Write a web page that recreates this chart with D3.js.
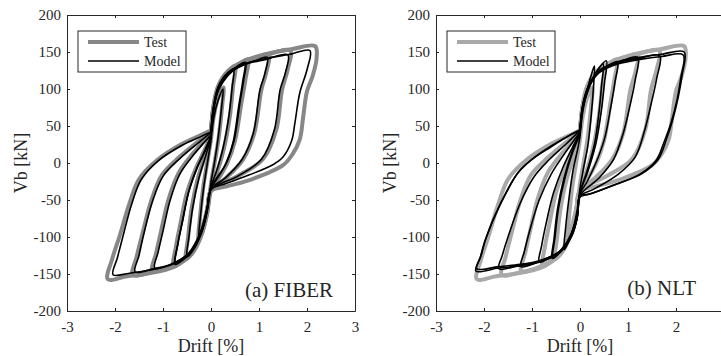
<!DOCTYPE html>
<html>
<head>
<meta charset="utf-8">
<script src="https://cdn.jsdelivr.net/npm/d3@7"></script>
</head>
<body style="margin:0; background:#fff">
<svg id="chart" width="721" height="356"></svg>
<script>
const xTicks = [-3, -2, -1, 0, 1, 2, 3];
const yTicks = [-200, -150, -100, -50, 0, 50, 100, 150, 200];
const legendLabels = ["Test", "Model"];
const panelTitles = ["(a) FIBER", "(b) NLT"];

// test loops [drift %, Vb kN], one array per cycle (same test in both panels)
const testCycles = [
    [[0,32],[0.06,64],[0.15,88],[0.26,102],[0.23,76],[0.16,34],[0.08,2],[0,-28],[-0.06,-60],[-0.15,-86],[-0.26,-102],[-0.23,-74],[-0.16,-32],[-0.08,0],[0,32]],
    [[0,38],[0.05,71],[0.15,99],[0.3,119],[0.5,131],[0.46,104],[0.39,62],[0.27,20],[0.13,-12],[0,-34],[-0.08,-62],[-0.2,-92],[-0.35,-117],[-0.52,-130],[-0.48,-102],[-0.4,-60],[-0.27,-20],[-0.11,12],[0,36]],
    [[0,40],[0.05,73],[0.15,101],[0.35,122],[0.6,134],[0.77,140],[0.72,114],[0.63,80],[0.5,30],[0.34,0],[0.13,-24],[0,-36],[-0.08,-64],[-0.2,-94],[-0.4,-121],[-0.6,-133],[-0.78,-140],[-0.73,-113],[-0.63,-80],[-0.5,-40],[-0.32,-8],[-0.13,18],[0,38]],
    [[0,42],[0.05,74],[0.15,102],[0.35,122],[0.7,137],[0.95,143],[1.2,147],[1.15,122],[1.05,99],[0.9,40],[0.67,5],[0.3,-21],[0,-37],[-0.08,-65],[-0.2,-95],[-0.4,-121],[-0.8,-139],[-1.22,-146],[-1.14,-121],[-1.04,-92],[-0.88,-48],[-0.67,-13],[-0.36,14],[0,40]],
    [[0,43],[0.05,75],[0.15,103],[0.35,123],[0.7,137],[1.2,147],[1.65,152],[1.6,127],[1.48,99],[1.36,45],[1.08,5],[0.55,-18],[0,-38],[-0.08,-66],[-0.2,-96],[-0.4,-122],[-0.8,-140],[-1.2,-147],[-1.63,-151],[-1.55,-127],[-1.43,-96],[-1.24,-50],[-1.02,-16],[-0.66,8],[-0.25,30],[0,43]],
    [[0,44],[0.05,76],[0.15,104],[0.35,124],[0.7,138],[1.2,148],[1.7,154],[2.17,158],[2.2,142],[2.12,118],[2.0,97],[1.92,62],[1.85,32],[1.7,12],[1.5,-3],[0.85,-22],[0.3,-32],[0,-38],[-0.08,-68],[-0.2,-98],[-0.4,-123],[-0.8,-141],[-1.3,-149],[-1.75,-153],[-2.15,-157],[-2.06,-130],[-1.9,-98],[-1.7,-55],[-1.5,-22],[-1.12,4],[-0.6,26],[-0.2,38],[0,44]]
];

// FIBER model loops
const fiberCycles = [
    [[0,30],[0.06,62],[0.15,85],[0.25,100],[0.22,75],[0.15,35],[0.07,0],[0,-26],[-0.06,-58],[-0.15,-84],[-0.25,-100],[-0.22,-72],[-0.15,-32],[-0.07,2],[0,30]],
    [[0,36],[0.05,70],[0.15,98],[0.3,117],[0.47,127],[0.44,102],[0.37,62],[0.25,20],[0.12,-10],[0,-32],[-0.08,-60],[-0.2,-90],[-0.35,-115],[-0.5,-127],[-0.46,-100],[-0.38,-60],[-0.25,-20],[-0.1,12],[0,34]],
    [[0,38],[0.05,72],[0.15,100],[0.35,120],[0.55,131],[0.72,136],[0.68,112],[0.6,80],[0.48,30],[0.32,0],[0.12,-22],[0,-34],[-0.08,-62],[-0.2,-92],[-0.4,-118],[-0.58,-131],[-0.75,-137],[-0.7,-112],[-0.6,-80],[-0.47,-40],[-0.3,-8],[-0.12,18],[0,36]],
    [[0,37],[0.05,70],[0.15,98],[0.35,118],[0.55,129],[0.7,134],[0.66,110],[0.58,78],[0.46,28],[0.3,-2],[0.1,-22],[0,-33],[-0.08,-60],[-0.2,-90],[-0.4,-116],[-0.58,-129],[-0.74,-135],[-0.69,-110],[-0.59,-78],[-0.46,-38],[-0.29,-6],[-0.11,18],[0,37]],
    [[0,40],[0.05,73],[0.15,101],[0.35,120],[0.7,133],[0.95,139],[1.17,143],[1.12,120],[1.02,99],[0.88,40],[0.65,5],[0.3,-20],[0,-35],[-0.08,-63],[-0.2,-93],[-0.4,-118],[-0.8,-136],[-1.17,-142],[-1.1,-120],[-1.0,-92],[-0.85,-50],[-0.65,-15],[-0.35,12],[0,38]],
    [[0,41],[0.05,74],[0.15,102],[0.35,121],[0.7,133],[1.15,140],[1.6,146],[1.55,122],[1.44,99],[1.32,45],[1.05,5],[0.55,-18],[0,-36],[-0.08,-64],[-0.2,-94],[-0.4,-119],[-0.8,-136],[-1.2,-143],[-1.58,-147],[-1.5,-125],[-1.4,-96],[-1.22,-52],[-1.0,-18],[-0.65,6],[-0.25,28],[0,41]],
    [[0,42],[0.05,75],[0.15,103],[0.35,122],[0.7,134],[1.2,142],[1.65,147],[2.06,152],[2.0,126],[1.85,95],[1.75,55],[1.68,30],[1.5,8],[1.3,-2],[0.8,-16],[0.3,-28],[0,-36],[-0.08,-65],[-0.2,-95],[-0.4,-120],[-0.8,-137],[-1.3,-145],[-1.7,-149],[-2.04,-151],[-1.95,-128],[-1.83,-98],[-1.65,-55],[-1.45,-22],[-1.1,3],[-0.6,24],[-0.2,36],[0,42]]
];

// NLT model loops
const nltCycles = [
    [[0,36],[0.06,70],[0.15,98],[0.23,118],[0.3,131],[0.28,102],[0.23,62],[0.16,22],[0.07,-8],[0,-34],[-0.06,-64],[-0.15,-90],[-0.25,-108],[-0.33,-117],[-0.3,-88],[-0.23,-48],[-0.14,-8],[-0.05,18],[0,36]],
    [[0,40],[0.06,74],[0.18,100],[0.32,120],[0.48,134],[0.45,105],[0.39,65],[0.3,25],[0.15,-10],[0,-40],[-0.06,-70],[-0.18,-95],[-0.38,-117],[-0.56,-128],[-0.52,-100],[-0.45,-62],[-0.32,-22],[-0.15,15],[0,38]],
    [[0,41],[0.06,76],[0.18,102],[0.35,124],[0.55,138],[0.51,108],[0.44,68],[0.33,26],[0.17,-10],[0,-41],[-0.06,-71],[-0.18,-96],[-0.38,-118],[-0.58,-129],[-0.54,-102],[-0.47,-63],[-0.34,-22],[-0.16,16],[0,40]],
    [[0,42],[0.06,76],[0.18,102],[0.4,123],[0.6,132],[0.78,137],[0.73,110],[0.64,75],[0.52,35],[0.35,3],[0.15,-25],[0,-42],[-0.06,-72],[-0.18,-97],[-0.4,-118],[-0.62,-128],[-0.85,-134],[-0.8,-112],[-0.7,-80],[-0.55,-40],[-0.35,-5],[-0.15,22],[0,40]],
    [[0,43],[0.06,77],[0.18,103],[0.4,123],[0.8,136],[1.2,143],[1.15,112],[1.05,80],[0.9,40],[0.7,5],[0.4,-20],[0,-44],[-0.06,-73],[-0.18,-98],[-0.4,-118],[-0.85,-133],[-1.23,-140],[-1.16,-120],[-1.05,-92],[-0.85,-50],[-0.6,-15],[-0.35,10],[0,42]],
    [[0,44],[0.06,78],[0.18,104],[0.4,124],[0.8,136],[1.2,141],[1.66,145],[1.6,115],[1.5,85],[1.35,45],[1.15,8],[0.8,-15],[0.3,-35],[0,-45],[-0.06,-74],[-0.18,-99],[-0.4,-119],[-0.85,-133],[-1.25,-138],[-1.69,-143],[-1.62,-125],[-1.5,-100],[-1.25,-55],[-0.95,-18],[-0.65,4],[-0.3,25],[0,44]],
    [[0,45],[0.06,80],[0.18,105],[0.4,125],[0.8,137],[1.25,143],[1.7,147],[2.17,150],[2.13,120],[2.05,90],[1.93,58],[1.8,32],[1.63,5],[1.3,-14],[0.7,-30],[0.2,-42],[0,-46],[-0.06,-75],[-0.18,-100],[-0.4,-120],[-0.85,-134],[-1.25,-139],[-1.7,-142],[-2.17,-146],[-2.08,-128],[-1.98,-105],[-1.65,-54],[-1.3,-14],[-1.0,5],[-0.6,22],[-0.2,38],[0,45]],
    [[0,44],[0.06,78],[0.18,103],[0.4,122],[0.8,134],[1.25,140],[1.7,144],[2.15,146],[2.1,115],[2.02,85],[1.9,55],[1.75,28],[1.58,3],[1.25,-15],[0.65,-31],[0.2,-42],[0,-45],[-0.06,-74],[-0.18,-99],[-0.4,-119],[-0.85,-132],[-1.25,-137],[-1.7,-140],[-2.15,-143],[-2.06,-125],[-1.96,-102],[-1.63,-52],[-1.28,-12],[-0.98,6],[-0.6,23],[-0.2,38],[0,44]]
];

const panels = [
    {left: 67, title: panelTitles[0], model: fiberCycles, testColor: "#878787", titleX: 333, titleY: 297},
    {left: 436, title: panelTitles[1], model: nltCycles, testColor: "#a9a9a9", titleX: 696, titleY: 295}
];

const PLOT_W = 288, PLOT_H = 296, TOP = 15;
const AXIS_COLOR = "#262626";
const FONT = "Liberation Serif";

let svg = d3.select("#chart");

// all texts in the serif face, set as inline style
let serifText = (sel, size) => sel
    .style("font-family", FONT)
    .attr("font-size", size)
    .attr("fill", AXIS_COLOR);

panels.forEach((p, i) => {
    let x = d3.scaleLinear().domain([-3, 3]).range([0, PLOT_W]);
    let y = d3.scaleLinear().domain([-200, 200]).range([PLOT_H, 0]);

    let g = svg.append("g").attr("transform", "translate(" + p.left + "," + TOP + ")");

    svg.append("clipPath").attr("id", "clip" + i)
        .append("rect").attr("width", PLOT_W).attr("height", PLOT_H);

    let plot = g.append("g").attr("clip-path", "url(#clip" + i + ")");

    let line = d3.line()
        .x(d => x(d[0]))
        .y(d => y(d[1]))
        .curve(d3.curveCatmullRom.alpha(0.5));

    plot.selectAll("path.test")
        .data(testCycles)
        .join("path")
        .attr("class", "test")
        .attr("fill", "none")
        .attr("stroke", p.testColor)
        .attr("stroke-width", 4)
        .attr("stroke-linejoin", "round")
        .attr("d", line);

    plot.selectAll("path.model")
        .data(p.model)
        .join("path")
        .attr("class", "model")
        .attr("fill", "none")
        .attr("stroke", "#000")
        .attr("stroke-width", 1.6)
        .attr("stroke-linejoin", "round")
        .attr("d", line);

    // axes, matlab style: box with inward ticks
    let styleAxis = (sel) => {
        sel.attr("color", AXIS_COLOR).attr("font-family", null).attr("font-size", null);
        sel.selectAll("text").call(serifText, 15);
    };

    g.append("g")
        .attr("transform", "translate(0," + PLOT_H + ")")
        .call(d3.axisBottom(x).tickValues(xTicks).tickSize(-3).tickSizeOuter(0).tickPadding(10).tickFormat(d => String(d)))
        .call(styleAxis);
    g.append("g")
        .call(d3.axisTop(x).tickValues(xTicks).tickSize(-3).tickSizeOuter(0).tickFormat(""))
        .call(styleAxis);
    g.append("g")
        .call(d3.axisLeft(y).tickValues(yTicks).tickSize(-3).tickSizeOuter(0).tickPadding(6).tickFormat(d => String(d)))
        .call(styleAxis);
    g.append("g")
        .attr("transform", "translate(" + PLOT_W + ",0)")
        .call(d3.axisRight(y).tickValues(yTicks).tickSize(-3).tickSizeOuter(0).tickFormat(""))
        .call(styleAxis);

    // axis labels
    svg.append("text")
        .attr("x", p.left + PLOT_W / 2)
        .attr("y", 352)
        .attr("text-anchor", "middle")
        .call(serifText, 18)
        .text("Drift [%]");

    svg.append("text")
        .attr("transform", "translate(" + (p.left - 40) + "," + (TOP + PLOT_H / 2) + ") rotate(-90)")
        .attr("text-anchor", "middle")
        .call(serifText, 18)
        .text("Vb [kN]");

    svg.append("text")
        .attr("x", p.titleX)
        .attr("y", p.titleY)
        .attr("text-anchor", "end")
        .call(serifText, 21)
        .text(p.title);

    // legend
    let lg = svg.append("g").attr("transform", "translate(" + (p.left + 11) + ",31)");
    lg.append("rect")
        .attr("width", 108).attr("height", 41)
        .attr("fill", "#fff").attr("stroke", AXIS_COLOR).attr("stroke-width", 1);
    let legendStyles = [
        {color: p.testColor, width: 4},
        {color: "#000", width: 1.6}
    ];
    legendLabels.forEach((label, k) => {
        let ly = 11 + k * 19;
        lg.append("line")
            .attr("x1", 10).attr("x2", 61)
            .attr("y1", ly).attr("y2", ly)
            .attr("stroke", legendStyles[k].color)
            .attr("stroke-width", legendStyles[k].width);
        lg.append("text")
            .attr("x", 66)
            .attr("y", ly + 5)
            .call(serifText, 14)
            .text(label);
    });
});
</script>
</body>
</html>
